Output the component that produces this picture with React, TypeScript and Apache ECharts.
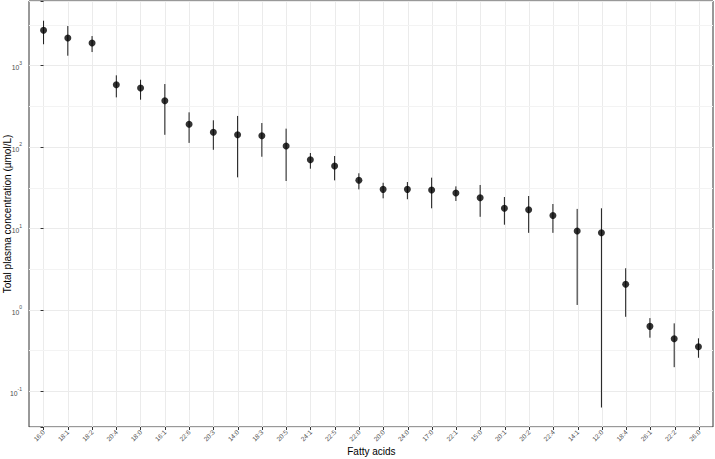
import React, { useEffect, useRef } from "react";
import * as echarts from "echarts";

const categories = ["16:0","18:1","18:2","20:4","18:0","16:1","22:6","20:3","14:0","18:3","20:5","24:1","22:5","22:0","20:0","24:0","17:0","22:1","15:0","20:1","20:2","22:4","14:1","12:0","18:4","26:1","22:2","26:0"];
const means = [2718, 2188, 1900, 585, 532, 372, 191, 153, 142, 138, 103.5, 70.3, 58.7, 39.3, 30.4, 30.4, 29.9, 27.4, 24.0, 17.8, 17.1, 14.5, 9.37, 8.93, 2.08, 0.634, 0.447, 0.357];
const lower = [1834, 1327, 1472, 409, 383, 142, 113, 93, 42.7, 76.4, 38.5, 54.5, 39.2, 30.4, 23.6, 23.0, 17.8, 21.9, 14.0, 11.2, 8.9, 8.9, 1.16, 0.064, 0.83, 0.46, 0.20, 0.261];
const upper = [3565, 3069, 2311, 762, 673, 596, 268, 214, 242, 198, 169, 84.9, 78, 47.9, 36.6, 37.4, 42.3, 33.1, 34.4, 24.5, 25.2, 20.1, 17.5, 17.8, 3.27, 0.80, 0.69, 0.452];
const minorBreaks = [Math.pow(10, 3.5), Math.pow(10, 2.5), Math.pow(10, 1.5), Math.pow(10, 0.5), Math.pow(10, -0.5)];
const yMin = 0.0369;
const yMax = 6225;
const yTitle = "Total plasma concentration (\u00b5mol/L)";
const xTitle = "Fatty acids";

const FONT = "'Liberation Sans', Arial, sans-serif";

export default function App() {
  const ref = useRef<HTMLDivElement>(null);
  useEffect(() => {
    if (!ref.current) return;
    const chart = echarts.init(ref.current, null, { renderer: "svg" });
    const points = means.map((m, i) => [i, m]);
    const bars = means.map((_, i) => [i, lower[i], upper[i]]);
    chart.setOption({
      animation: false,
      backgroundColor: "#ffffff",
      textStyle: { fontFamily: FONT },
      grid: [
        { left: 29, right: 2, top: 1, bottom: 32, show: true, borderColor: "#333333", borderWidth: 1, backgroundColor: "transparent", containLabel: false, outerBoundsMode: "none" },
        { left: 43.6, right: 15.8, top: 1, bottom: 32, show: false, containLabel: false, outerBoundsMode: "none" },
      ],
      xAxis: [
        { gridIndex: 0, type: "value", min: -0.6, max: 27.6, show: false },
        {
          gridIndex: 1, type: "value", min: 0, max: 27, interval: 1, position: "bottom",
          name: xTitle, nameLocation: "middle", nameGap: 19, nameMoveOverlap: false,
          nameTextStyle: { fontSize: 10, color: "#000000", fontFamily: FONT, verticalAlign: "top" },
          axisLine: { show: false, onZero: false },
          axisTick: { show: true, length: 3, lineStyle: { color: "#333333", width: 1 } },
          axisLabel: {
            rotate: 45, fontSize: 6.5, color: "#4D4D4D", margin: 4, fontFamily: FONT,
            hideOverlap: false,
            formatter: (v: number) => (Number.isInteger(v) ? categories[v] : ""),
          },
          splitLine: { show: true, lineStyle: { color: "#EBEBEB", width: 1 } },
        },
      ],
      yAxis: [
        {
          gridIndex: 0, type: "log", logBase: 10, min: yMin, max: yMax,
          name: yTitle, nameLocation: "middle", nameGap: 22, nameRotate: 90, nameMoveOverlap: false,
          nameTextStyle: { fontSize: 10, color: "#000000", fontFamily: FONT, verticalAlign: "middle" },
          axisLine: { show: false },
          axisTick: { show: true, length: 3, lineStyle: { color: "#333333", width: 1 } },
          axisLabel: {
            margin: 7, color: "#4D4D4D", fontFamily: FONT,
            formatter: (v: number) => {
              const l = Math.log10(v);
              const r = Math.round(l);
              if (Math.abs(l - r) > 1e-6) return "";
              return `{b|10}{s|${r}}`;
            },
            rich: {
              b: { fontSize: 6.8, color: "#4D4D4D", fontFamily: FONT, lineHeight: 11, verticalAlign: "bottom" },
              s: { fontSize: 5, color: "#4D4D4D", fontFamily: FONT, lineHeight: 11, verticalAlign: "top" },
            },
          },
          splitLine: { show: true, lineStyle: { color: "#EBEBEB", width: 1 } },
        },
        { gridIndex: 1, type: "value", min: 0, max: 1, show: false },
      ],
      series: [
        {
          type: "custom",
          xAxisIndex: 0, yAxisIndex: 0,
          z: 2,
          encode: { x: 0, y: [1, 2] },
          data: bars,
          renderItem: (params: any, api: any) => {
            const i = api.value(0);
            const p1 = api.coord([i, api.value(1)]);
            const p2 = api.coord([i, api.value(2)]);
            return {
              type: "line",
              shape: { x1: p1[0], y1: p1[1], x2: p2[0], y2: p2[1] },
              style: { stroke: "#1a1a1a", lineWidth: 1 },
            };
          },
          markLine: {
            silent: true, symbol: "none", label: { show: false },
            lineStyle: { color: "#F3F3F3", width: 1, type: "solid" },
            data: minorBreaks.map((b) => ({ yAxis: b })),
            z: 0,
          },
        },
        {
          type: "scatter",
          xAxisIndex: 0, yAxisIndex: 0,
          z: 3,
          symbol: "circle", symbolSize: 7,
          itemStyle: { color: "#000000" },
          data: points,
        },
      ],
    });
    return () => chart.dispose();
  }, []);
  return <div ref={ref} style={{ position: "fixed", left: 0, top: 0, width: 715, height: 459 }} />;
}
